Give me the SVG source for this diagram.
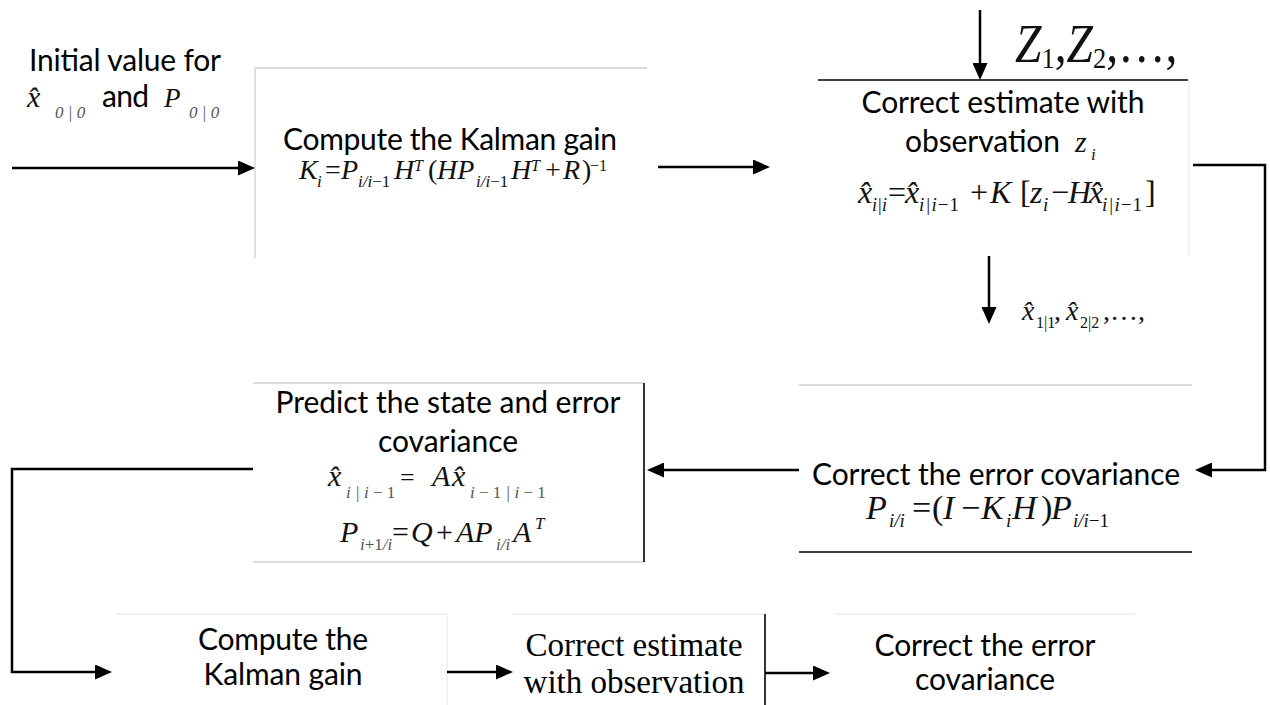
<svg xmlns="http://www.w3.org/2000/svg" width="1270" height="705" viewBox="0 0 1270 705">
<style>
.t{font-family:Lato,"Open Sans","Liberation Sans",sans-serif;font-size:30px;fill:#000}
.tc{text-anchor:middle}
.tr{font-family:"Liberation Serif","Times New Roman",serif;font-size:33px;fill:#000;text-anchor:middle}
.m{font-family:"Liberation Serif","Times New Roman",serif;font-style:italic;fill:#111}
.u{font-style:normal}
.g{fill:#555}
.conn{fill:none;stroke:#000;stroke-width:2.5;stroke-linejoin:miter}
.bl{stroke:#000;stroke-width:1.6;fill:none}
.gl{stroke:#cfcfcf;stroke-width:1.3;fill:none}
.vl{stroke:#ececec;stroke-width:1.3;fill:none}
</style>
<defs>
<marker id="ah" markerUnits="userSpaceOnUse" markerWidth="17" markerHeight="15" viewBox="0 0 17 15" refX="9" refY="7.5" orient="auto">
<path d="M0,0 L17,7.5 L0,15 Z" fill="#000"/>
</marker>
</defs>
<rect width="1270" height="705" fill="#fff"/>

<g id="init">
<text class="t tc" x="125" y="71" textLength="192">Initial value for</text>
<text class="m" font-size="30" x="27" y="107">x̂</text>
<text class="m g" font-size="17" x="55" y="118" xml:space="preserve">0 | 0</text>
<text class="t" x="102" y="107" textLength="47">and</text>
<text class="m" font-size="27" x="164" y="107" fill="#444">P</text>
<text class="m g" font-size="17" x="189" y="118" xml:space="preserve">0 | 0</text>
</g>

<g id="kalman1">
<path class="gl" d="M255,258 V68 H647"/>
<text class="t tc" x="450" y="150" textLength="334">Compute the Kalman gain</text>
<g class="m" font-size="28">
<text x="299" y="179">K</text>
<text x="317" y="187" font-size="17">i</text>
<text class="u" x="325" y="179">=</text>
<text x="341" y="179">P</text>
<text x="358" y="187" font-size="17">i/i<tspan class="u">−1</tspan></text>
<text x="394" y="179">H</text>
<text x="414" y="171" font-size="16">T</text>
<text class="u" x="428" y="179">(</text>
<text x="437" y="179">HP</text>
<text x="476" y="187" font-size="17">i/i<tspan class="u">−1</tspan></text>
<text x="511" y="179">H</text>
<text x="531" y="171" font-size="16">T</text>
<text class="u" x="545" y="179">+</text>
<text x="563" y="179">R</text>
<text class="u" x="582" y="179">)</text>
<text class="u" x="590" y="171" font-size="16">−1</text>
</g>
</g>

<g id="zobs">
<g class="m" transform="translate(1015,62) scale(0.88,1)">
<text x="0" y="0" font-size="54">Z<tspan class="u" font-size="30" dy="6">1</tspan><tspan class="u" dy="-6">,</tspan>Z<tspan class="u" font-size="30" dy="6">2</tspan><tspan class="u" dy="-6">,…,</tspan></text>
</g>
</g>

<g id="correct1">
<path class="bl" d="M818,80 H1188"/>
<path class="vl" d="M1189,80 V256"/>
<text class="t tc" x="1003" y="113" textLength="283">Correct estimate with</text>
<text class="t" x="905" y="152" textLength="155">observation</text>
<text class="m" font-size="30" x="1075" y="152">z</text>
<text class="m" font-size="17" x="1091" y="160">i</text>
<g class="m" font-size="32">
<text x="858" y="203">x̂</text>
<text x="872" y="211" font-size="18">i|i</text>
<text class="u" x="888" y="203">=</text>
<text x="905" y="203">x̂</text>
<text x="919" y="211" font-size="19" letter-spacing="1">i|i<tspan class="u">−1</tspan></text>
<text class="u" x="970" y="203">+</text>
<text x="990" y="203">K</text>
<text class="u" x="1020" y="203">[</text>
<text x="1030" y="203">z</text>
<text x="1043" y="211" font-size="19">i</text>
<text class="u" x="1051" y="203">−</text>
<text x="1068" y="203">H</text>
<text x="1089" y="203">x̂</text>
<text x="1102" y="211" font-size="19" letter-spacing="1">i|i<tspan class="u">−1</tspan></text>
<text class="u" x="1145" y="203">]</text>
</g>
</g>

<g id="xlist">
<g class="m" font-size="28">
<text x="1022" y="320">x̂</text>
<text class="u" x="1036" y="328" font-size="16">1|1</text>
<text class="u" x="1054" y="320">,</text>
<text x="1066" y="320">x̂</text>
<text class="u" x="1080" y="328" font-size="16">2|2</text>
<text class="u" x="1103" y="320">,…,</text>
</g>
</g>

<g id="correct2">
<path class="gl" d="M799,385 H1192"/>
<path class="bl" d="M799,552 H1192"/>
<text class="t tc" x="996" y="485" textLength="368">Correct the error covariance</text>
<g class="m" font-size="34">
<text x="866" y="519">P</text>
<text x="889" y="527" font-size="19">i/i</text>
<text class="u" x="912" y="519">=</text>
<text class="u" x="932" y="519">(</text>
<text x="943" y="519">I</text>
<text class="u" x="961" y="519">−</text>
<text x="981" y="519">K</text>
<text x="1006" y="527" font-size="19">i</text>
<text x="1012" y="519">H</text>
<text class="u" x="1041" y="519">)</text>
<text x="1051" y="519">P</text>
<text x="1073" y="527" font-size="19">i/i<tspan class="u">−1</tspan></text>
</g>
</g>

<g id="predict">
<path class="gl" d="M253,383 H644"/>
<path class="gl" d="M253,562 H644"/>
<path class="bl" d="M644,383 V562"/>
<text class="t tc" x="448" y="413" textLength="345">Predict the state and error</text>
<text class="t tc" x="448" y="452" textLength="140">covariance</text>
<g class="m" font-size="30" fill="#222">
<text x="328" y="486">x̂</text>
<text class="g" x="346" y="498" font-size="17" xml:space="preserve">i | i <tspan class="u">− 1</tspan></text>
<text class="u" x="400" y="486" font-size="26">=</text>
<text x="432" y="486">A</text>
<text x="452" y="486">x̂</text>
<text class="g" x="470" y="498" font-size="17" xml:space="preserve">i <tspan class="u">− 1</tspan> | i <tspan class="u">− 1</tspan></text>
</g>
<g class="m" font-size="30" fill="#222">
<text x="340" y="542">P</text>
<text class="g" x="360" y="550" font-size="17">i<tspan class="u">+1</tspan>/i</text>
<text class="u" x="392" y="542">=</text>
<text x="411" y="542">Q</text>
<text class="u" x="436" y="542">+</text>
<text x="456" y="542">AP</text>
<text class="g" x="496" y="550" font-size="17">i/i</text>
<text x="513" y="542">A</text>
<text x="535" y="529" font-size="17">T</text>
</g>
</g>

<g id="kalman2">
<path class="vl" d="M116,614 H447 V705"/>
<text class="t tc" x="283" y="650" textLength="170">Compute the</text>
<text class="t tc" x="283" y="685" textLength="159">Kalman gain</text>
</g>

<g id="correct3">
<path class="vl" d="M512,614 H765"/>
<path class="bl" d="M765,614 V705"/>
<text class="tr" x="634" y="656">Correct estimate</text>
<text class="tr" x="634" y="693">with observation</text>
</g>

<g id="correct4">
<path class="vl" d="M835,614 H1135"/>
<text class="t tc" x="985" y="656" textLength="221">Correct the error</text>
<text class="t tc" x="985" y="690" textLength="140">covariance</text>
</g>

<g id="connectors">
<path class="conn" marker-end="url(#ah)" d="M12,168 H247"/>
<path class="conn" marker-end="url(#ah)" d="M658,167 H762"/>
<path class="conn" marker-end="url(#ah)" d="M980,10 V72"/>
<path class="conn" marker-end="url(#ah)" d="M989,256 V316"/>
<path class="conn" marker-end="url(#ah)" d="M1193,165 H1265 V470 H1203"/>
<path class="conn" marker-end="url(#ah)" d="M799,470 H655"/>
<path class="conn" marker-end="url(#ah)" d="M253,469 H12 V672 H104"/>
<path class="conn" marker-end="url(#ah)" d="M447,672 H505"/>
<path class="conn" marker-end="url(#ah)" d="M765,673 H822"/>
</g>
</svg>
